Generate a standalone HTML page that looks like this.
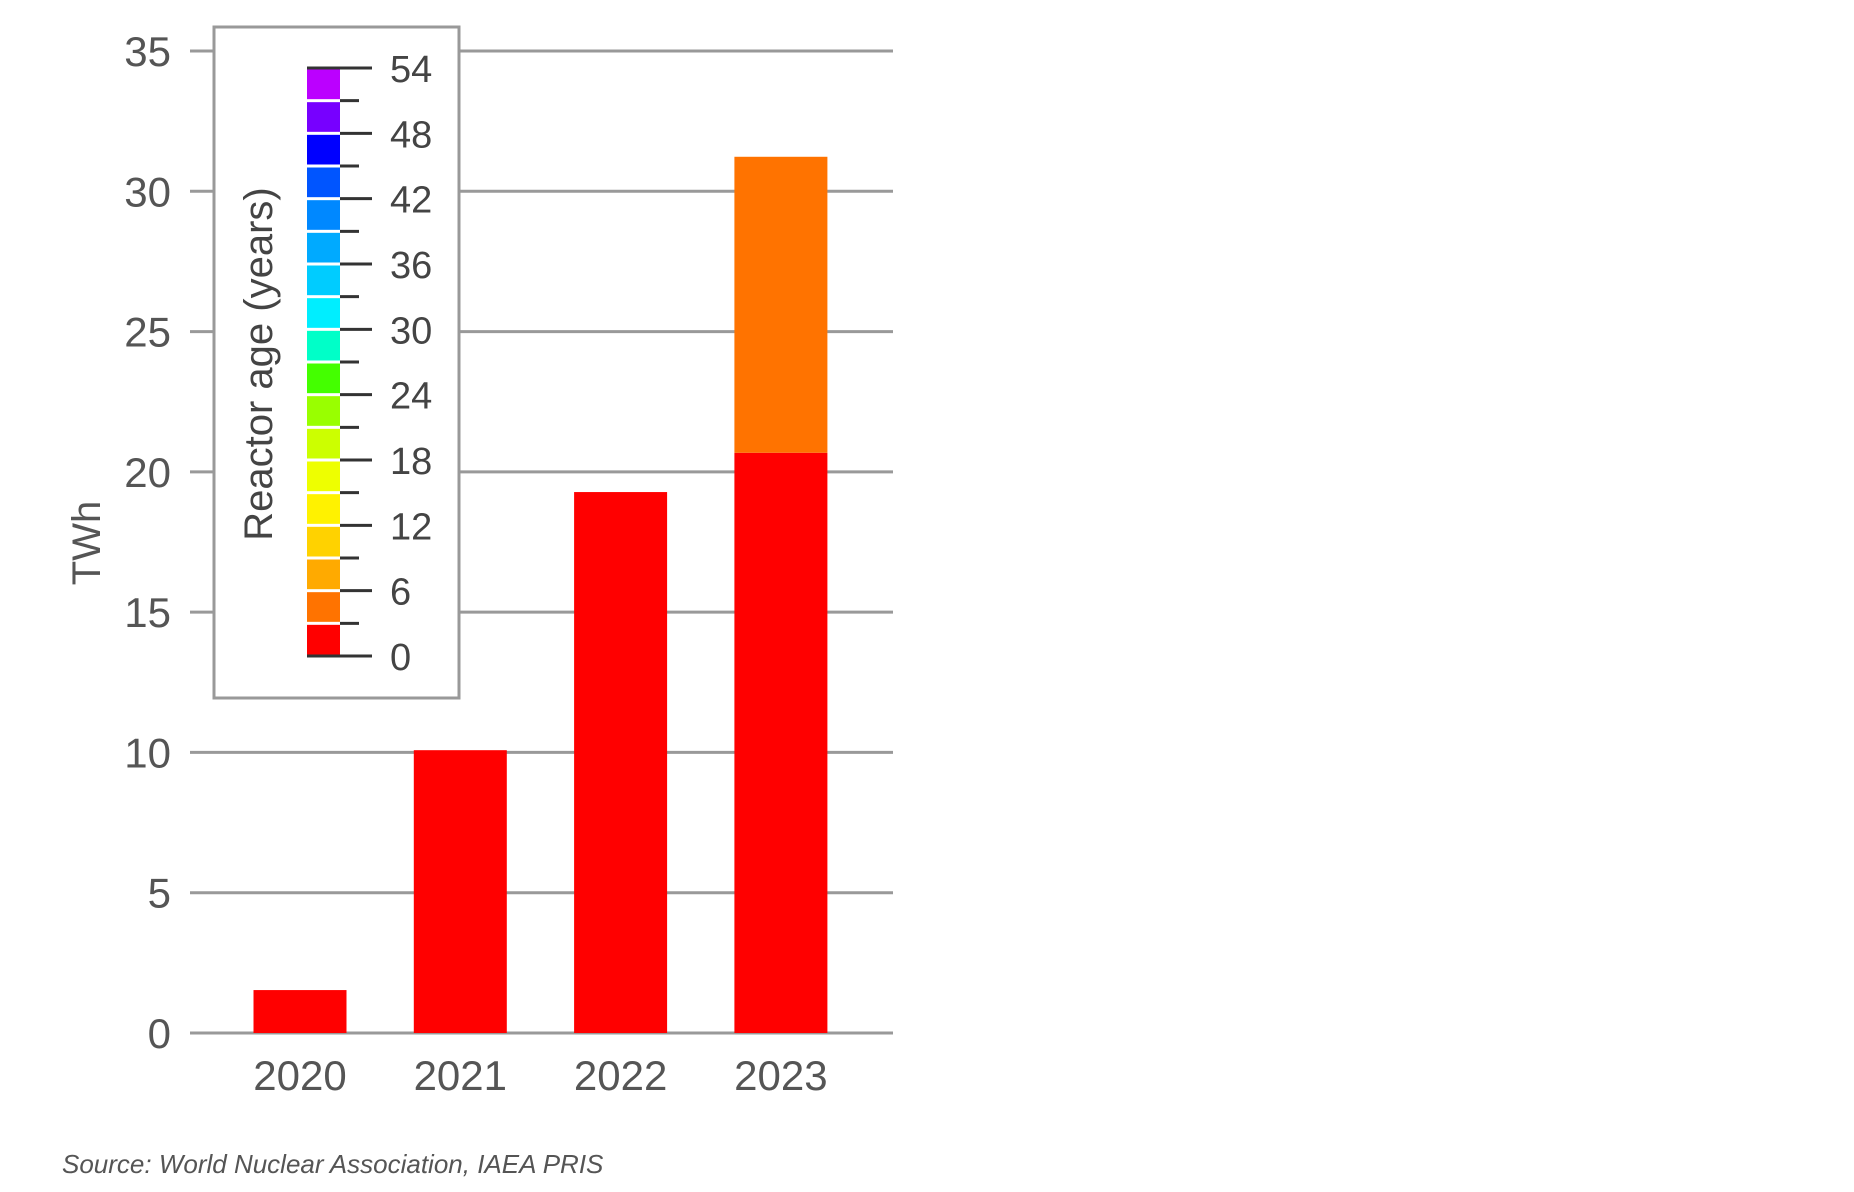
<!DOCTYPE html>
<html><head><meta charset="utf-8"><style>
html,body{margin:0;padding:0;background:#fff;width:1854px;height:1192px;overflow:hidden}
text{font-family:"Liberation Sans",sans-serif}
</style></head><body>
<svg id="chart" width="1854" height="1192" viewBox="0 0 1854 1192" xmlns="http://www.w3.org/2000/svg">
<g id="grid"></g>
<g id="bars"></g>
<g id="yaxis"></g>
<g id="xaxis"></g>
<text transform="translate(100,543) rotate(-90)" text-anchor="middle" font-size="40" fill="#555">TWh</text>
<g id="legend">
<rect x="214" y="27" width="245" height="671" fill="#fff" stroke="#999" stroke-width="3"/>
<text transform="translate(272,364) rotate(-90)" text-anchor="middle" font-size="40" fill="#444">Reactor age (years)</text>
</g>
<text x="62" y="1173" font-size="26" font-style="italic" fill="#555">Source: World Nuclear Association, IAEA PRIS</text>
</svg>
<script>
const years = ["2020","2021","2022","2023"];
const age0to3 = [1.53, 10.08, 19.28, 20.68];
const age3to6 = [0, 0, 0, 10.55];
const yTicks = [0,5,10,15,20,25,30,35];
const cbTicks = [0,6,12,18,24,30,36,42,48,54];
const cbColors = ["#ff0000","#ff7300","#ffaa00","#ffd200","#fff200","#eeff00","#ccff00","#99ff00","#44ff00","#00ffc8","#00eeff","#00ccff","#00aaff","#0088ff","#0055ff","#0000ff","#7700ff","#bb00ff"];
const NS="http://www.w3.org/2000/svg";
const y0=1033, yTop=51, yMax=35, xL=190, xR=893;
const y=v=>y0-(v/yMax)*(y0-yTop);
const xC=i=>300+i*160.3;
const bw=93;
function mk(tag,attrs,parent){const e=document.createElementNS(NS,tag);for(const k in attrs)e.setAttribute(k,attrs[k]);parent.appendChild(e);return e;}
const grid=document.getElementById('grid'),yax=document.getElementById('yaxis'),bars=document.getElementById('bars'),xax=document.getElementById('xaxis'),leg=document.getElementById('legend');
yTicks.forEach(t=>{
  const l=mk('line',{x1:xL,x2:xR,y1:y(t),y2:y(t),stroke:'#999','stroke-width':3},grid);
  
  
  const tx=mk('text',{x:171,y:y(t)+15,'text-anchor':'end','font-size':42,fill:'#555'},yax);
  tx.textContent=t;
  
  
});
years.forEach((yr,i)=>{
  const a=age0to3[i], b=age3to6[i];
  const r1=mk('rect',{x:xC(i)-bw/2,y:y(a),width:bw,height:y(0)-y(a),fill:'#ff0000'},bars);
  
  
  if(b>0){
    const r2=mk('rect',{x:xC(i)-bw/2,y:y(a+b),width:bw,height:y(a)-y(a+b),fill:'#ff7300'},bars);
    
    
  }
  const tx=mk('text',{x:xC(i),y:1090,'text-anchor':'middle','font-size':42,fill:'#555'},xax);
  tx.textContent=yr;
  
  
});
mk('line',{x1:xL,x2:xR,y1:y0,y2:y0,stroke:'#999','stroke-width':3},grid);
// colorbar
const cbTop=68, cbBot=656, cbX=307, cbW=33, n=cbColors.length, seg=(cbBot-cbTop)/n;
cbColors.forEach((c,i)=>{
  const r=mk('rect',{x:cbX,y:cbBot-(i+1)*seg+1.5,width:cbW,height:seg-3,fill:c},leg);
  
  
});
mk('line',{x1:cbX,x2:cbX+cbW,y1:cbTop,y2:cbTop,stroke:'#333','stroke-width':3},leg);
mk('line',{x1:cbX,x2:cbX+cbW,y1:cbBot,y2:cbBot,stroke:'#333','stroke-width':3},leg);
for(let i=0;i<=n;i++){
  const yy=cbBot-i*seg, major=i%2===0;
  mk('line',{x1:cbX+cbW,x2:major?372:359,y1:yy,y2:yy,stroke:'#333','stroke-width':3},leg);
}
cbTicks.forEach((t,i)=>{
  const yy=cbBot-(t/54)*(cbBot-cbTop);
  const tx=mk('text',{x:390,y:yy+14,'font-size':38,fill:'#444'},leg);
  tx.textContent=t;
  
  
});
</script>
</body></html>
